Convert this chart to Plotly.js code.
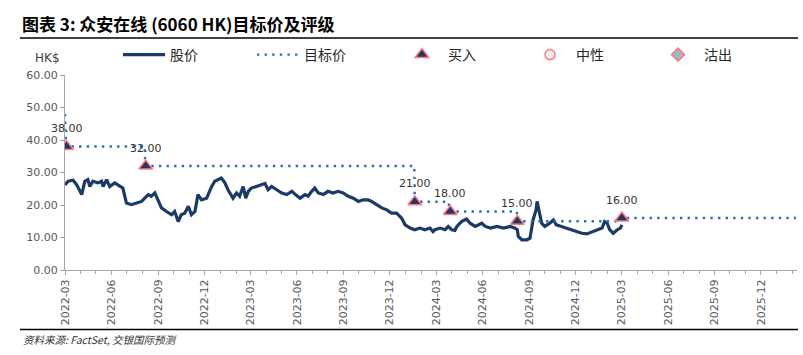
<!DOCTYPE html>
<html>
<head>
<meta charset="utf-8">
<script src="https://cdn.plot.ly/plotly-3.0.1.min.js"></script>
<style>html,body{margin:0;padding:0;background:#fff;}#chart{width:803px;height:355px;}</style>
</head>
<body>
<div id="chart"></div>
<script>
// Stock price (HK$)
const priceDates = ['2022-03-01','2022-03-07','2022-03-17','2022-03-24','2022-04-03','2022-04-09','2022-04-15','2022-04-19','2022-04-25','2022-05-05','2022-05-12','2022-05-15','2022-05-22','2022-05-28','2022-06-07','2022-06-14','2022-06-23','2022-06-30','2022-07-10','2022-07-20','2022-07-30','2022-08-05','2022-08-12','2022-08-18','2022-08-25','2022-08-31','2022-09-07','2022-09-17','2022-09-27','2022-10-03','2022-10-10','2022-10-16','2022-10-23','2022-10-30','2022-11-05','2022-11-12','2022-11-18','2022-11-25','2022-12-05','2022-12-15','2022-12-21','2023-01-03','2023-01-10','2023-01-16','2023-01-26','2023-02-02','2023-02-08','2023-02-15','2023-02-20','2023-02-25','2023-03-03','2023-03-13','2023-03-23','2023-03-30','2023-04-05','2023-04-12','2023-04-22','2023-05-02','2023-05-12','2023-05-22','2023-05-29','2023-06-07','2023-06-17','2023-06-23','2023-06-30','2023-07-06','2023-07-13','2023-07-23','2023-08-01','2023-08-11','2023-08-21','2023-08-31','2023-09-10','2023-09-20','2023-09-30','2023-10-09','2023-10-19','2023-10-26','2023-11-05','2023-11-15','2023-11-25','2023-12-04','2023-12-14','2023-12-24','2023-12-31','2024-01-10','2024-01-19','2024-01-29','2024-02-08','2024-02-18','2024-02-24','2024-02-28','2024-03-09','2024-03-19','2024-03-25','2024-04-01','2024-04-07','2024-04-11','2024-04-20','2024-04-30','2024-05-07','2024-05-17','2024-05-30','2024-06-06','2024-06-16','2024-06-29','2024-07-12','2024-07-25','2024-08-03','2024-08-08','2024-08-10','2024-08-17','2024-08-27','2024-09-02','2024-09-08','2024-09-14','2024-09-16','2024-09-20','2024-09-25','2024-10-01','2024-10-11','2024-10-18','2024-10-24','2024-11-03','2024-11-13','2024-11-23','2024-12-03','2024-12-13','2024-12-23','2025-01-05','2025-01-15','2025-01-22','2025-01-27','2025-02-01','2025-02-06','2025-02-13','2025-02-21','2025-02-27','2025-03-02'];
const priceValues = [26.2,27.3,27.6,26.2,23.2,27.3,27.8,25.7,27.3,26.8,27.3,25.7,27.8,25.7,26.8,26.2,25.2,20.6,20.1,20.6,21.1,22.1,23.2,22.7,23.7,21.6,19.1,18.0,17.0,18.0,14.9,17.0,17.5,19.6,17.0,18.0,23.2,21.6,22.1,25.7,27.3,28.3,26.8,24.7,22.1,23.7,22.7,25.7,22.1,24.2,25.2,25.7,26.2,26.6,24.7,25.7,24.7,23.7,23.2,24.2,23.2,22.1,23.2,22.7,24.2,25.2,23.7,23.2,24.2,23.7,24.2,23.7,22.7,22.1,21.1,21.6,21.6,21.1,20.1,19.1,18.5,17.5,17.5,16.0,13.9,12.9,12.4,12.9,12.4,12.9,11.8,12.4,12.9,12.4,13.4,12.4,12.2,13.4,14.9,15.7,14.4,13.4,14.4,13.4,12.9,13.4,12.9,13.4,12.9,12.4,10.3,9.3,9.3,9.8,15.4,18.5,21.1,17.5,14.4,13.4,14.4,15.4,13.9,13.4,12.9,12.4,11.8,11.3,11.1,11.8,12.4,12.9,14.9,14.4,12.4,11.3,12.4,12.9,13.9];

// Target price (HK$)
const targetDates = ['2022-03-01','2022-03-03','2022-08-05','2022-08-06','2024-01-18','2024-01-19','2024-03-26','2024-03-27','2024-08-07','2024-08-08','2025-02-27','2025-02-28','2026-02-08'];
const targetValues = [48,38,38,32,32,21,21,18,18,15,15,16,16];

// Rating changes: Buy
const buyDates = ['2022-03-04','2022-08-07','2024-01-19','2024-03-29','2024-08-08','2025-03-02'];
const buyValues = [38,32,21,18,15,16];

// Axis ticks
const tickDates = ['2022-03-01','2022-06-01','2022-09-01','2022-12-01','2023-03-01','2023-06-01','2023-09-01','2023-12-01','2024-03-01','2024-06-01','2024-09-01','2024-12-01','2025-03-01','2025-06-01','2025-09-01','2025-12-01'];
const tickLabels = ['2022-03','2022-06','2022-09','2022-12','2023-03','2023-06','2023-09','2023-12','2024-03','2024-06','2024-09','2024-12','2025-03','2025-06','2025-09','2025-12'];

const seriesNames = ['股价','目标价','买入','中性','沽出'];

const navy = '#1B3A66';
const dotBlue = '#2E6DB4';
const pink = '#FF7C80';
const legFont = {family: '"Noto Sans CJK SC", sans-serif', size: 14, color: '#262626'};

// plot area in px: left 65, right 797, top 75, bottom 270
const PL = 65, PR = 797, PT = 75, PB = 270;
const px2x = p => (p - PL) / (PR - PL);
const px2y = p => (PB - p) / (PB - PT);

const traces = [
  {x: priceDates, y: priceValues, type: 'scatter', mode: 'lines', name: seriesNames[0],
   line: {color: navy, width: 3.2}, legend: 'legend'},
  {x: targetDates, y: targetValues, type: 'scatter', mode: 'lines', name: seriesNames[1],
   line: {color: dotBlue, width: 2.4, dash: '2.4px,5.2px'}, legend: 'legend2'},
  {x: buyDates, y: buyValues, type: 'scatter', mode: 'markers', name: seriesNames[2],
   marker: {symbol: 'triangle-up', size: 12, color: '#1F3864', line: {color: pink, width: 1.5}}, legend: 'legend3'},
  {x: [null], y: [null], type: 'scatter', mode: 'markers', name: seriesNames[3],
   marker: {symbol: 'circle', size: 10, color: '#EDEDED', line: {color: pink, width: 1.5}}, legend: 'legend4'},
  {x: [null], y: [null], type: 'scatter', mode: 'markers', name: seriesNames[4],
   marker: {symbol: 'diamond', size: 10, color: '#9DB6C9', line: {color: pink, width: 1.5}}, legend: 'legend5'}
];

const annFont = {family: '"DejaVu Sans", sans-serif', size: 11, color: '#333333'};
const annotations = buyDates.map((d, i) => ({
  x: d, y: buyValues[i], xref: 'x', yref: 'y', text: buyValues[i].toFixed(2),
  showarrow: false, yshift: 18, font: annFont
}));
annotations.push({xref: 'paper', yref: 'paper', x: px2x(33), y: px2y(58), xanchor: 'left', yanchor: 'middle',
  text: 'HK$', showarrow: false, font: {family: '"DejaVu Sans", sans-serif', size: 12, color: '#404040'}});
annotations.push({xref: 'paper', yref: 'paper', x: px2x(21), y: px2y(339), xanchor: 'left', yanchor: 'middle',
  text: '<i>资料来源: FactSet, 交银国际预测</i>', showarrow: false,
  font: {family: '"Noto Sans CJK SC", sans-serif', size: 10.5, color: '#333333'}});

const legendBase = {orientation: 'h', yanchor: 'middle', xanchor: 'left', bgcolor: 'rgba(0,0,0,0)', font: legFont, y: px2y(55)};

const layout = {
  width: 803, height: 355,
  margin: {l: PL, r: 803 - PR, t: PT, b: 355 - PB},
  paper_bgcolor: '#ffffff', plot_bgcolor: '#ffffff',
  title: {text: '图表 3: 众安在线 (6060 HK)目标价及评级', x: 22/803, xanchor: 'left', xref: 'container',
    y: 1 - 25/355, yanchor: 'middle', yref: 'container',
    font: {family: '"Noto Sans CJK SC", sans-serif', size: 17, color: '#000000', weight: 'bold'}},
  xaxis: {type: 'date', range: ['2022-03-01', '2026-02-10'], tickvals: tickDates, ticktext: tickLabels,
    tickangle: -90, ticks: 'outside', ticklen: 4, tickcolor: '#A6A6A6', showline: true, linecolor: '#A6A6A6',
    linewidth: 1, showgrid: false, zeroline: false,
    tickfont: {family: '"DejaVu Sans", sans-serif', size: 11, color: '#595959'},
    minor: {dtick: 'M1', tick0: '2022-03-01', ticks: 'outside', ticklen: 3, tickcolor: '#A6A6A6', showgrid: false}},
  yaxis: {range: [0, 60], dtick: 10, tickformat: '.2f', ticks: 'outside', ticklen: 4, tickcolor: '#A6A6A6',
    showline: true, linecolor: '#A6A6A6', linewidth: 1, showgrid: false, zeroline: false,
    tickfont: {family: '"DejaVu Sans", sans-serif', size: 11, color: '#595959'}},
  showlegend: true,
  legend: Object.assign({}, legendBase, {x: px2x(118), itemwidth: 42}),
  legend2: Object.assign({}, legendBase, {x: px2x(252), itemwidth: 42}),
  legend3: Object.assign({}, legendBase, {x: px2x(396), itemwidth: 42}),
  legend4: Object.assign({}, legendBase, {x: px2x(524), itemwidth: 42}),
  legend5: Object.assign({}, legendBase, {x: px2x(652), itemwidth: 42}),
  annotations: annotations,
  shapes: [
    {type: 'line', xref: 'paper', yref: 'paper', x0: px2x(20), x1: px2x(798), y0: px2y(38), y1: px2y(38), line: {color: '#000', width: 1.5}},
    {type: 'line', xref: 'paper', yref: 'paper', x0: px2x(20), x1: px2x(798), y0: px2y(329.5), y1: px2y(329.5), line: {color: '#000', width: 1.5}}
  ]
};

Plotly.newPlot('chart', traces, layout, {displayModeBar: false, staticPlot: true});
</script>
</body>
</html>
